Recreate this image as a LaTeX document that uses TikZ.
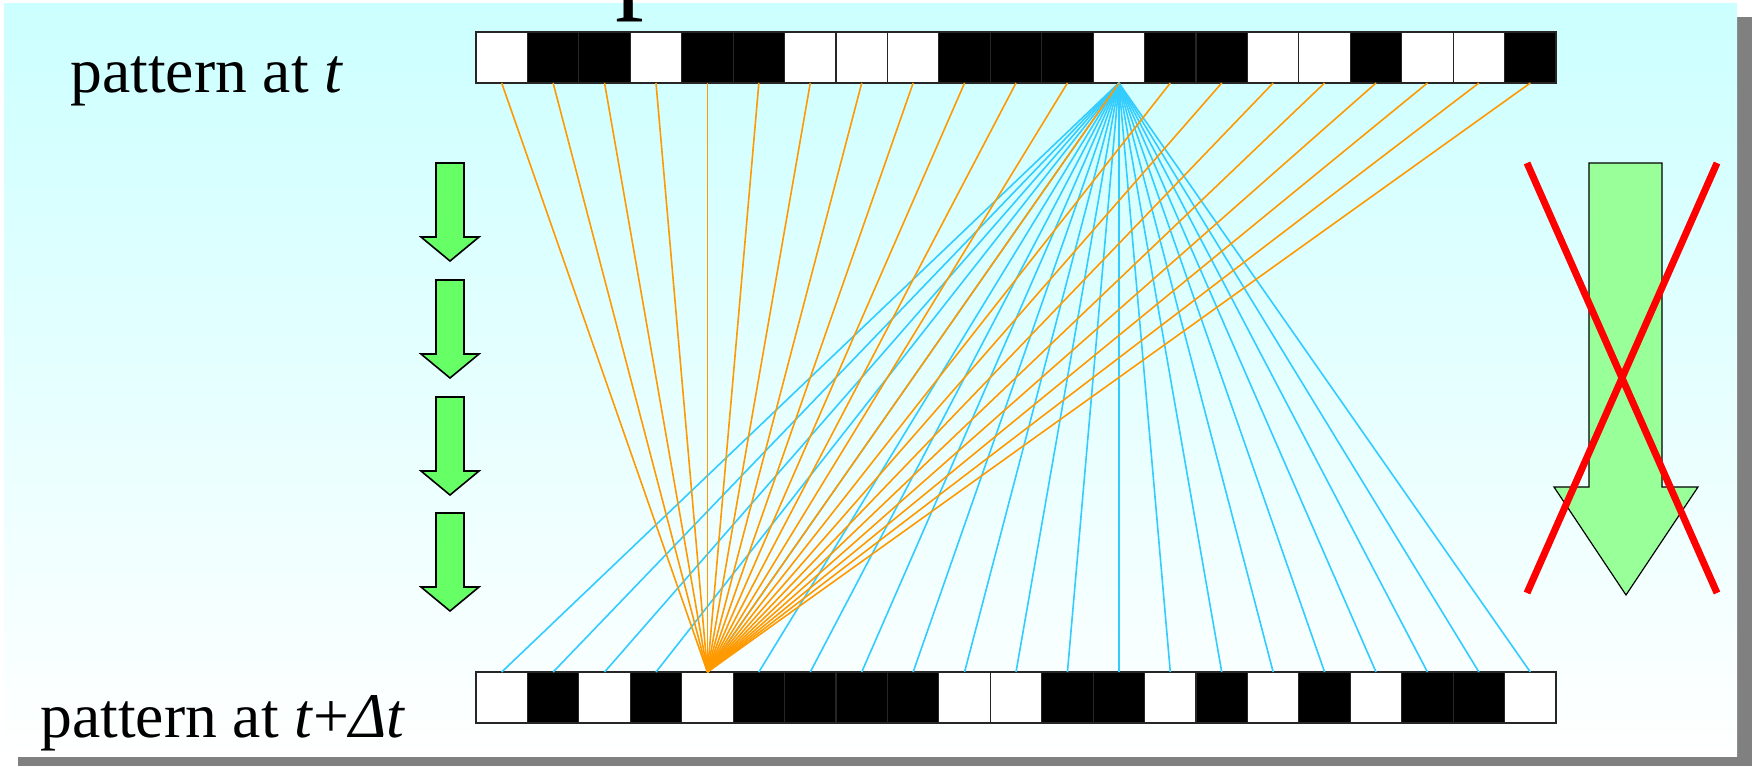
\documentclass[tikz,border=0pt]{standalone}
\usepackage{fontspec}
\setmainfont{Liberation Serif}
\usetikzlibrary{positioning}
\definecolor{panelcyan}{HTML}{CCFFFF}
\definecolor{rayorange}{HTML}{FF9900}
\definecolor{raysky}{HTML}{33CCFF}
\definecolor{stepgreen}{HTML}{66FF66}
\definecolor{palegreen}{HTML}{99FF99}
\begin{document}
\begin{tikzpicture}[
  x=0.5pt, y=-0.5pt,
  cell/.style={draw=black!85, line width=0.6pt, minimum width=25.71pt, minimum height=25.5pt,
    inner sep=0pt, outer sep=0pt, anchor=north west},
  lbl/.style={anchor=base west, inner sep=0pt, font=\fontsize{31.8}{38}\selectfont},
  orangeray/.style={draw=rayorange, line width=0.8pt},
  skyray/.style={draw=raysky, line width=0.8pt},
  smallarrow/.style={draw=black, line width=0.8pt, fill=stepgreen, line join=miter},
  bigarrow/.style={draw=black, line width=0.6pt, fill=palegreen},
  crossline/.style={draw=red, line width=3.5pt},
]
  \useasboundingbox (0,0) rectangle (1752,766);
  \fill[black!50] (18,17) rectangle (1752,766);
  \shade[top color=panelcyan, bottom color=white] (4,3) rectangle (1737,756);
  \begin{scope}
    \clip (0,0) rectangle (1752,766);
    \node[anchor=base west, inner sep=0pt, font=\fontsize{57.5}{60}\selectfont] (titlep) at (615,-3) {p};
  \end{scope}

  \node[lbl] (lblt) at (70,92) {pattern at \textit{t}};
  \node[lbl] (lbldt) at (40,737) {pattern at \textit{t}+\textit{Δt}};

  \foreach \c [count=\i] in {white,black,black,white,black,black,white,white,white,black,black,
                             black,white,black,black,white,white,black,white,white,black}
    \node[cell, fill=\c] (t\i) at ({476+51.43*(\i-1)},32) {};
  \foreach \c [count=\i] in {white,black,white,black,white,black,black,black,black,white,white,
                             black,black,white,black,white,black,white,black,black,white}
    \node[cell, fill=\c] (b\i) at ({476+51.43*(\i-1)},672) {};

  \foreach \i in {1,...,21}
    \draw[skyray] (t13.south) -- (b\i.north);
  \foreach \i in {1,...,21}
    \draw[orangeray] (t\i.south) -- (b5.north);

  \foreach \y in {163,280,397,513}
    \draw[smallarrow] (436,\y) -- (464,\y) -- (464,{\y+74}) -- (479,{\y+74}) -- (450,{\y+98})
      -- (421,{\y+74}) -- (436,{\y+74}) -- cycle;

  \draw[bigarrow] (1589,163) -- (1662,163) -- (1662,487) -- (1698,487) -- (1626,595)
    -- (1554,487) -- (1589,487) -- cycle;
  \draw[crossline] (1527,163) -- (1717,593);
  \draw[crossline] (1717,163) -- (1527,593);
\end{tikzpicture}
\end{document}
